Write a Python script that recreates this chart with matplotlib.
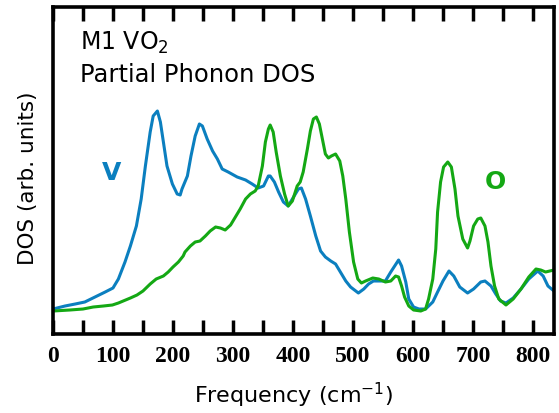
import matplotlib
matplotlib.use("Agg")
import matplotlib.pyplot as plt

# Frequencies (cm^-1) and partial DOS (arb. units)
v_freq = [0, 20, 37, 53, 70, 87, 100, 109, 120, 129, 139, 147, 154, 162, 167, 174, 179, 184, 190, 199,
          207, 212, 215, 224, 230, 237, 244, 249, 257, 266, 274, 282, 292, 307, 321, 332, 342, 351, 359,
          362, 369, 376, 384, 392, 401, 409, 414, 421, 429, 438, 446, 454, 463, 471, 479, 488, 496, 509,
          518, 526, 534, 546, 554, 563, 576, 581, 588, 593, 601, 610, 621, 633, 641, 650, 660, 668, 678,
          691, 701, 713, 720, 730, 738, 746, 755, 767, 780, 793, 808, 817, 825, 835]
v_dos = [25, 28, 30, 32, 37, 42, 46, 55, 72, 88, 108, 135, 168, 202, 218, 223, 212, 192, 168, 150,
         140, 139, 145, 158, 178, 198, 210, 208, 195, 183, 175, 165, 162, 157, 154, 150, 146, 148, 158,
         158, 152, 142, 132, 128, 137, 145, 146, 135, 118, 98, 83, 77, 73, 70, 62, 53, 47, 41,
         45, 50, 53, 53, 53, 62, 74, 68, 52, 35, 27, 25, 25, 32, 42, 53, 63, 58, 47,
         41, 45, 52, 53, 48, 40, 33, 31, 36, 45, 55, 63, 58, 48, 43]

o_freq = [0, 28, 50, 67, 84, 99, 109, 117, 129, 140, 150, 162, 172, 184, 192, 200, 209, 217, 220, 229,
          237, 245, 254, 262, 271, 279, 287, 296, 304, 312, 321, 329, 337, 342, 349, 354, 359, 362, 367,
          372, 379, 386, 392, 399, 407, 412, 417, 424, 429, 434, 439, 444, 449, 454, 459, 464, 471, 478,
          483, 488, 494, 501, 508, 514, 521, 533, 543, 554, 563, 571, 576, 581, 586, 593, 601, 613, 621,
          626, 633, 638, 641, 646, 651, 658, 664, 670, 675, 683, 691, 695, 701, 708, 713, 720, 725, 730,
          736, 743, 755, 767, 780, 793, 805, 813, 821, 835]
o_dos = [23, 24, 25, 27, 28, 29, 31, 33, 36, 39, 43, 50, 55, 58, 62, 67, 72, 78, 82, 88,
         92, 93, 98, 103, 107, 106, 104, 109, 117, 125, 135, 140, 143, 148, 168, 192, 205, 209, 202,
         182, 158, 140, 128, 133, 148, 152, 162, 185, 203, 215, 217, 210, 195, 180, 176, 178, 180, 173,
         158, 135, 102, 72, 55, 51, 53, 56, 55, 52, 53, 58, 57, 48, 37, 28, 24, 23, 25,
         35, 55, 85, 122, 152, 167, 172, 167, 145, 118, 95, 86, 93, 108, 115, 116, 108, 92, 68,
         48, 35, 29, 35, 45, 57, 65, 64, 62, 64]

x_major = [0, 100, 200, 300, 400, 500, 600, 700, 800]
x_minor = [50, 150, 250, 350, 450, 550, 650, 750]

blue = "#0b7fbf"
green = "#14a814"

fig = plt.figure(figsize=(5.59, 4.14), dpi=100)
ax = fig.add_axes([0.0948, 0.1908, 0.8962, 0.7899])

ax.plot(v_freq, v_dos, color=blue, lw=2.2, solid_joinstyle="round")
ax.plot(o_freq, o_dos, color=green, lw=2.2, solid_joinstyle="round")

ax.set_xlim(0, 835)
ax.set_ylim(0, 327)

ax.set_xticks(x_major)
ax.set_xticks(x_minor, minor=True)
ax.set_yticks([])
ax.tick_params(axis="x", which="both", direction="in", length=10, width=2.5,
               top=True, bottom=True, pad=8)
for lab in ax.get_xticklabels():
    lab.set_fontfamily("Liberation Serif")
    lab.set_fontweight("bold")
    lab.set_fontsize(17)

for sp in ax.spines.values():
    sp.set_linewidth(2.6)

ax.set_xlabel("Frequency (cm$^{-1}$)", fontsize=16)
ax.xaxis.set_label_coords(0.481, -0.14)
ax.set_ylabel("DOS (arb. units)", fontsize=15.5)
ax.yaxis.set_label_coords(-0.03, 0.48)

ax.text(0.054, 0.872, "M1 VO$_2$", transform=ax.transAxes, fontsize=17, va="baseline", ha="left")
ax.text(0.054, 0.774, "Partial Phonon DOS", transform=ax.transAxes, fontsize=17.5, va="baseline", ha="left")

ax.text(97, 155, "V", color=blue, fontsize=18, fontweight="bold", ha="center", va="baseline")
ax.text(737, 146, "O", color=green, fontsize=18, fontweight="bold", ha="center", va="baseline")

fig.savefig("out.png", dpi=100)
